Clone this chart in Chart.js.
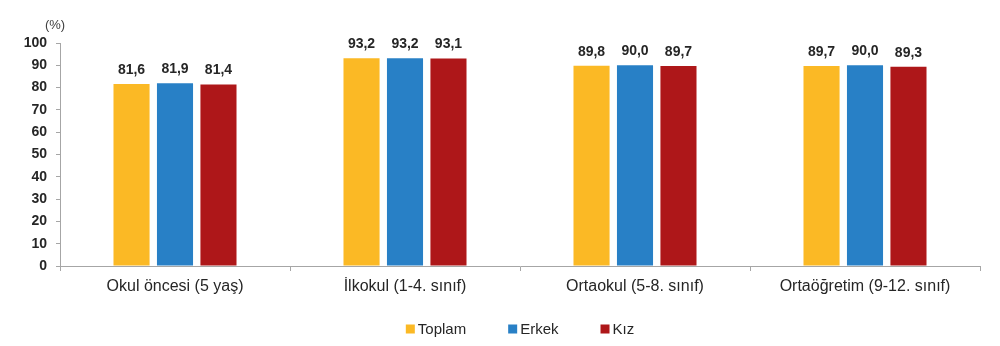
<!DOCTYPE html>
<html>
<head>
<meta charset="utf-8">
<script src="https://cdn.jsdelivr.net/npm/chart.js@4/dist/chart.umd.min.js"></script>
<style>
  html, body { margin: 0; padding: 0; background: #fff; }
  #wrap { width: 1000px; height: 346px; position: relative; }
</style>
</head>
<body>
<div id="wrap"><canvas id="c"></canvas></div>
<script>
const categories = ['Okul öncesi (5 yaş)', 'İlkokul (1-4. sınıf)', 'Ortaokul (5-8. sınıf)', 'Ortaöğretim (9-12. sınıf)'];
const toplam = [81.6, 93.2, 89.8, 89.7];
const erkek = [81.9, 93.2, 90.0, 90.0];
const kiz = [81.4, 93.1, 89.7, 89.3];
const yTicks = [0, 10, 20, 30, 40, 50, 60, 70, 80, 90, 100];

const FONT = '"Liberation Sans", Arial, sans-serif';
const AXIS = '#a6a6a6';
const TEXT = '#262626';

// Value labels above each bar, Turkish decimal comma
const valueLabels = {
  id: 'valueLabels',
  afterDatasetsDraw(chart) {
    const ctx = chart.ctx;
    ctx.save();
    ctx.font = 'bold 14px ' + FONT;
    ctx.fillStyle = TEXT;
    ctx.textAlign = 'center';
    ctx.textBaseline = 'middle';
    chart.data.datasets.forEach((ds, i) => {
      chart.getDatasetMeta(i).data.forEach((bar, j) => {
        ctx.fillText(ds.data[j].toFixed(1).replace('.', ','), bar.x, bar.y - 14);
      });
    });
    ctx.restore();
  }
};

// Unit caption above the value axis
const unitCaption = {
  id: 'unitCaption',
  afterDraw(chart) {
    const ctx = chart.ctx;
    ctx.save();
    ctx.font = '13px ' + FONT;
    ctx.fillStyle = '#404040';
    ctx.textAlign = 'center';
    ctx.textBaseline = 'middle';
    ctx.fillText('(%)', 55, 25);
    ctx.restore();
  }
};

// Series key centred under the plot area
const seriesKey = {
  id: 'seriesKey',
  afterDraw(chart) {
    const ctx = chart.ctx;
    const box = 9, textGap = 3, itemGap = 42, y = 329;
    ctx.save();
    ctx.font = '15px ' + FONT;
    ctx.textBaseline = 'middle';
    ctx.textAlign = 'left';
    const items = chart.data.datasets.map(ds => ({
      label: ds.label, color: ds.backgroundColor, w: box + textGap + ctx.measureText(ds.label).width
    }));
    const total = items.reduce((s, it) => s + it.w, 0) + itemGap * (items.length - 1);
    const area = chart.chartArea;
    let x = (area.left + area.right) / 2 - total / 2;
    items.forEach(it => {
      ctx.fillStyle = it.color;
      ctx.fillRect(x, y - box / 2, box, box);
      ctx.fillStyle = TEXT;
      ctx.fillText(it.label, x + box + textGap, y + 1);
      x += it.w + itemGap;
    });
    ctx.restore();
  }
};

new Chart(document.getElementById('c'), {
  type: 'bar',
  data: {
    labels: categories,
    datasets: [
      { label: 'Toplam', data: toplam, backgroundColor: '#FBB925' },
      { label: 'Erkek', data: erkek, backgroundColor: '#2880C6' },
      { label: 'Kız', data: kiz, backgroundColor: '#AE1719' }
    ]
  },
  options: {
    responsive: true,
    maintainAspectRatio: false,
    animation: false,
    layout: { padding: { top: 43, right: 20, left: 0, bottom: 0 } },
    datasets: { bar: { categoryPercentage: 0.567, barPercentage: 0.83 } },
    plugins: {
      legend: { display: false },
      tooltip: { enabled: false }
    },
    scales: {
      x: {
        afterFit(scale) { scale.height = 80; },
        grid: { display: true, drawOnChartArea: false, drawTicks: true, tickLength: 5, color: AXIS, offset: true },
        border: { display: true, color: AXIS },
        ticks: { color: TEXT, font: { family: FONT, size: 16 }, padding: 6 }
      },
      y: {
        min: 0, max: 100,
        afterBuildTicks(scale) { scale.ticks = yTicks.map(v => ({ value: v })); },
        afterFit(scale) { scale.width = 60; },
        grid: { display: true, drawOnChartArea: false, drawTicks: true, tickLength: 4, color: AXIS },
        border: { display: true, color: AXIS },
        ticks: { color: TEXT, font: { family: FONT, size: 14, weight: 'bold' }, padding: 9 }
      }
    }
  },
  plugins: [valueLabels, unitCaption, seriesKey]
});
</script>
</body>
</html>
